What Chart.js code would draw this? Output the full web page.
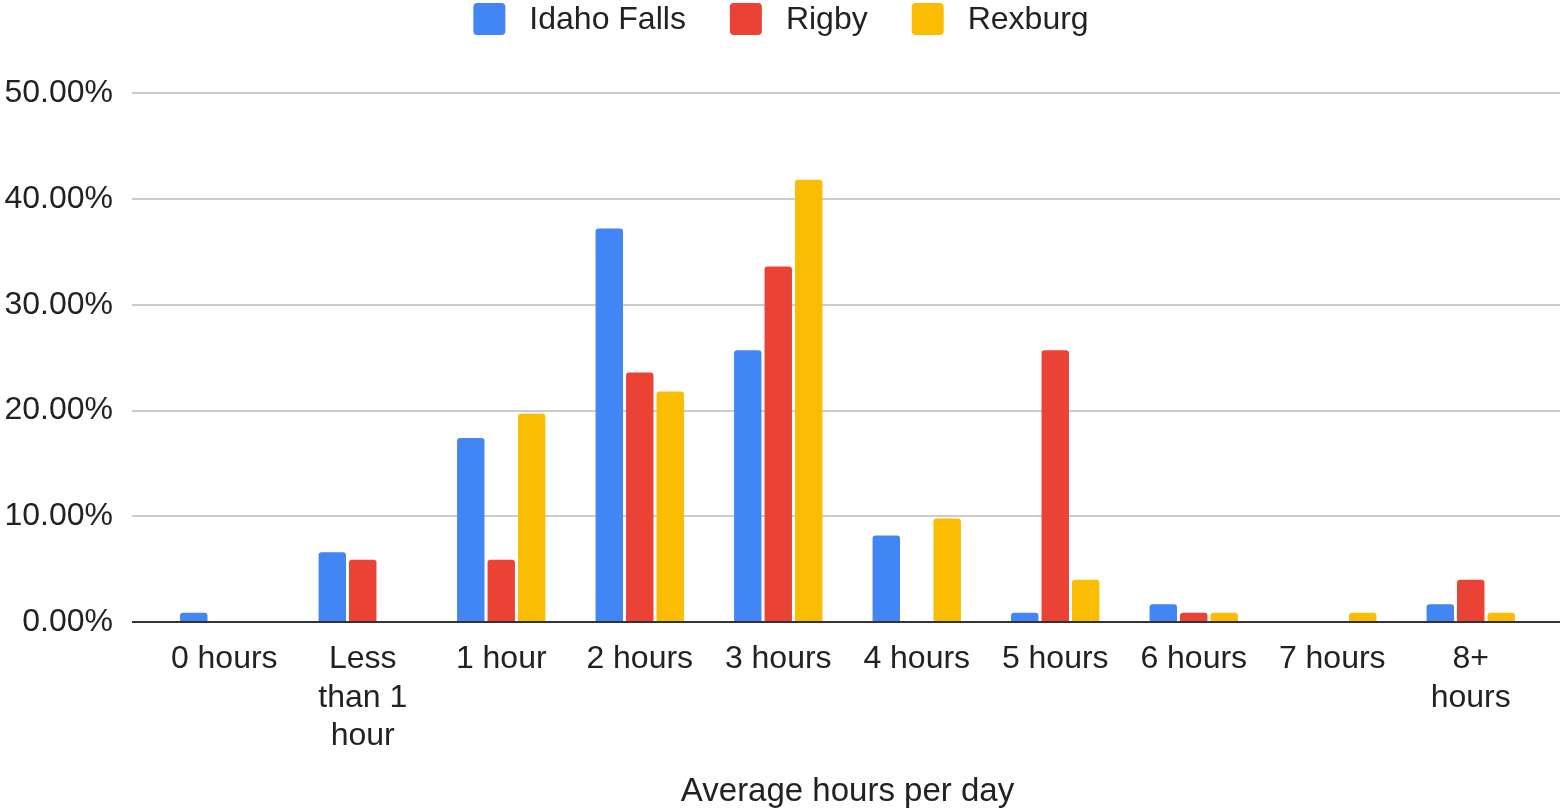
<!DOCTYPE html>
<html>
<head>
<meta charset="utf-8">
<script src="https://cdn.jsdelivr.net/npm/chart.js@4.4.0/dist/chart.umd.min.js"></script>
<style>
  body { margin: 0; background: #fff; }
  #wrap { width: 1562px; height: 812px; }
</style>
</head>
<body>
<div id="wrap"><canvas id="chart" width="1562" height="812"></canvas></div>
<script>
// hours per day, share of respondents (%)
var categories = ['0 hours', ['Less', 'than 1', 'hour'], '1 hour', '2 hours', '3 hours',
                  '4 hours', '5 hours', '6 hours', '7 hours', ['8+', 'hours']];
var idahoFalls = [0.9, 6.6, 17.4, 37.2, 25.7, 8.2, 0.9, 1.7, 0, 1.7];
var rigby      = [0, 5.9, 5.9, 23.6, 33.6, 0, 25.7, 0.9, 0, 4.0];
var rexburg    = [0, 0, 19.7, 21.8, 41.8, 9.8, 4.0, 0.9, 0.9, 0.9];
var yTicks     = [0, 10, 20, 30, 40, 50];

var FONT = '"Liberation Sans", Arial, sans-serif';
var TEXT = '#222222';

// grid lines run a bit wider than the bar area, like the sheets chart
var gridPlugin = {
    id: 'wideGrid',
    beforeDatasetsDraw: function(chart) {
        var ctx = chart.ctx, a = chart.chartArea, y = chart.scales.y;
        ctx.save();
        ctx.strokeStyle = '#cccccc';
        ctx.lineWidth = 2;
        yTicks.forEach(function(v) {
            if (v === 0) return;
            var py = Math.round(y.getPixelForValue(v));
            ctx.beginPath();
            ctx.moveTo(a.left - 23, py);
            ctx.lineTo(a.right + 20, py);
            ctx.stroke();
        });
        ctx.restore();
    },
    afterDatasetsDraw: function(chart) {
        var ctx = chart.ctx, a = chart.chartArea, y = chart.scales.y;
        var py = Math.round(y.getPixelForValue(0));
        ctx.save();
        ctx.strokeStyle = '#333333';
        ctx.lineWidth = 2;
        ctx.beginPath();
        ctx.moveTo(a.left - 23, py);
        ctx.lineTo(a.right + 20, py);
        ctx.stroke();
        ctx.restore();
    }
};

// legend drawn by hand: square swatch, wide gap before the text
var legendPlugin = {
    id: 'topLegend',
    afterDraw: function(chart) {
        var ctx = chart.ctx;
        var box = 32, gap = 24, itemGap = 44;
        ctx.save();
        ctx.font = '32px ' + FONT;
        var sets = chart.data.datasets;
        var total = 0;
        sets.forEach(function(ds, i) {
            total += box + gap + ctx.measureText(ds.label).width;
            if (i < sets.length - 1) total += itemGap;
        });
        var x = (chart.width - total) / 2;
        ctx.textBaseline = 'middle';
        sets.forEach(function(ds) {
            ctx.fillStyle = ds.backgroundColor;
            ctx.beginPath();
            ctx.roundRect(x, 3, box, box, 4);
            ctx.fill();
            x += box + gap;
            ctx.fillStyle = TEXT;
            ctx.fillText(ds.label, x, 20);
            x += ctx.measureText(ds.label).width + itemGap;
        });
        ctx.restore();
    }
};

new Chart(document.getElementById('chart').getContext('2d'), {
    type: 'bar',
    data: {
        labels: categories,
        datasets: [
            { label: 'Idaho Falls', data: idahoFalls, backgroundColor: '#4285F4' },
            { label: 'Rigby', data: rigby, backgroundColor: '#EA4335' },
            { label: 'Rexburg', data: rexburg, backgroundColor: '#FBBC04' }
        ]
    },
    options: {
        responsive: false,
        animation: false,
        layout: { padding: { top: 93, left: 5, right: 22, bottom: 0 } },
        datasets: {
            bar: { categoryPercentage: 0.66, barPercentage: 0.9, borderRadius: 3, borderSkipped: 'start' }
        },
        plugins: {
            legend: { display: false },
            tooltip: { enabled: false }
        },
        scales: {
            x: {
                grid: { display: false },
                border: { display: false },
                ticks: { color: TEXT, font: { family: FONT, size: 32 }, padding: 10,
                         maxRotation: 0, autoSkip: false },
                title: { display: true, text: 'Average hours per day', color: TEXT,
                         font: { family: FONT, size: 33 }, padding: { top: 7, bottom: 0 } }
            },
            y: {
                min: 0, max: 50,
                afterBuildTicks: function(scale) {
                    scale.ticks = yTicks.map(function(v) { return { value: v }; });
                },
                afterFit: function(scale) { scale.width = 150; },
                grid: { display: false, drawTicks: false },
                border: { display: false },
                ticks: { color: TEXT, font: { family: FONT, size: 32 }, padding: 42,
                         callback: function(v) { return v.toFixed(2) + '%'; } }
            }
        }
    },
    plugins: [gridPlugin, legendPlugin]
});
</script>
</body>
</html>
